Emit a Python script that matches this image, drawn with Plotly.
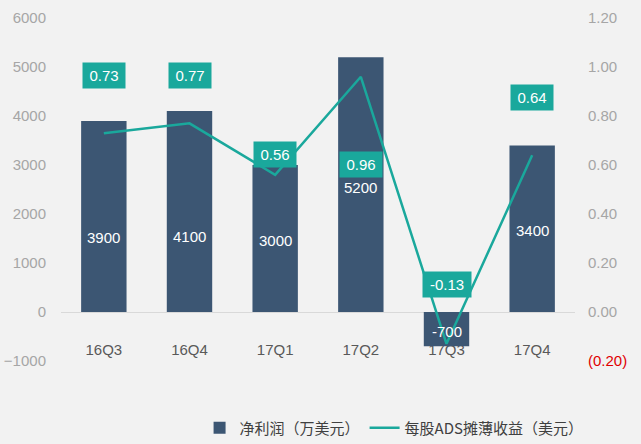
import plotly.graph_objects as go

categories = ["16Q3", "16Q4", "17Q1", "17Q2", "17Q3", "17Q4"]
net_profit = [3900, 4100, 3000, 5200, -700, 3400]
eps_ads = [0.73, 0.77, 0.56, 0.96, -0.13, 0.64]
eps_labels = ["0.73", "0.77", "0.56", "0.96", "-0.13", "0.64"]
eps_label_shift = [58, 48, 20, -88, 59, 58]
bar_label_shift = [-21, -25, -2, -3, -2, -2]

left_ticks = [-1000, 0, 1000, 2000, 3000, 4000, 5000, 6000]
right_ticks = [-0.2, 0.0, 0.2, 0.4, 0.6, 0.8, 1.0, 1.2]
right_ticktext = ['<span style="color:#e00000">(0.20)</span>', "0.00", "0.20", "0.40",
                  "0.60", "0.80", "1.00", "1.20"]

BAR = "#3c5673"
TEAL = "#1aa89c"
FONT = "Noto Sans CJK SC, Arial, sans-serif"

fig = go.Figure()
fig.add_trace(go.Bar(
    x=categories, y=net_profit, name="净利润（万美元）",
    marker=dict(color=BAR, line=dict(width=0)),
    width=0.53,
))
fig.add_trace(go.Scatter(
    x=categories, y=eps_ads, name="每股ADS摊薄收益（美元）", yaxis="y2",
    mode="lines", line=dict(color=TEAL, width=2.5),
))

for c, v, s in zip(categories, net_profit, bar_label_shift):
    fig.add_annotation(
        x=c, y=v / 2, xref="x", yref="y", text=str(v), showarrow=False, yshift=s,
        font=dict(color="white", size=15, family="Arial"),
    )

for c, v, t, s in zip(categories, eps_ads, eps_labels, eps_label_shift):
    fig.add_annotation(
        x=c, y=v, xref="x", yref="y2", text=t, showarrow=False, yshift=s,
        bgcolor=TEAL, font=dict(color="white", size=15, family="Arial"),
        borderpad=4, width=34 if len(t) < 5 else 40,
    )

fig.update_layout(
    width=641, height=444,
    margin=dict(l=61, r=66, t=18, b=83, autoexpand=False),
    paper_bgcolor="#f2f2f2", plot_bgcolor="#f2f2f2",
    font=dict(family=FONT, color="#595959"),
    showlegend=True,
    legend=dict(orientation="h", x=0.648, xanchor="center",
                yref="container", y=1 - 428 / 444, yanchor="middle",
                font=dict(size=15, color="#404040", family=FONT),
                bgcolor="rgba(0,0,0,0)"),
    bargap=0.47,
    xaxis=dict(
        type="category", anchor="free", position=1/7, layer="below traces",
        showline=False, showgrid=False, ticks="",
        tickfont=dict(size=15, color="#595959", family="Arial"),
        ticklabelstandoff=27,
    ),
    yaxis=dict(
        range=[-1000, 6000], tickvals=left_ticks, showgrid=False,
        zeroline=True, zerolinecolor="#d9d9d9", zerolinewidth=1,
        tickfont=dict(size=15, color="#a6a6a6", family="Arial"),
        ticklabelstandoff=14,
    ),
    yaxis2=dict(
        range=[-0.2, 1.2], overlaying="y", side="right", tickvals=right_ticks,
        ticktext=right_ticktext, showgrid=False, zeroline=False,
        tickfont=dict(size=15, color="#a6a6a6", family="Arial"),
        ticklabelstandoff=12,
    ),
)

fig.write_html("out.html")
